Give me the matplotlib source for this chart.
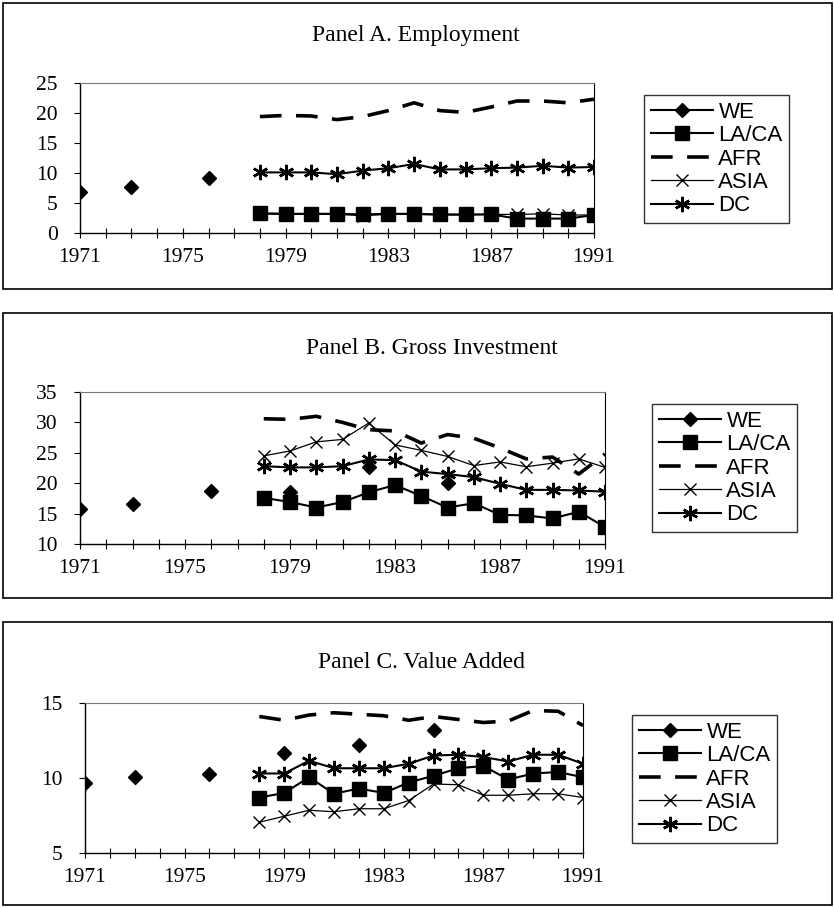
import numpy as np
import matplotlib
matplotlib.use('Agg')
import matplotlib.pyplot as plt
from matplotlib.patches import Rectangle

# ---- data ----
years = list(range(1971, 1992))
yrs_we = [1971, 1973, 1976, 1979, 1982, 1985]
yrs_reg = list(range(1978, 1992))
series = ['WE', 'LA/CA', 'AFR', 'ASIA', 'DC']

# Panel A. Employment
emp_we = [6.9, 7.6, 9.1, np.nan, np.nan, np.nan]
emp_lac = [3.3, 3.2, 3.2, 3.2, 3.1, 3.2, 3.2, 3.1, 3.1, 3.1, 2.4, 2.4, 2.4, 3.0]
emp_afr = [19.4, 19.6, 19.5, 18.9, 19.4, 20.4, 21.7, 20.4, 20.1, 21.0, 22.0, 22.0, 21.7, 22.3]
emp_asia = [3.2, 3.1, 3.1, 3.1, 2.9, 3.1, 3.1, 3.0, 3.0, 3.1, 3.1, 3.2, 3.0, 3.0]
emp_dc = [10.1, 10.1, 10.1, 9.8, 10.4, 10.8, 11.5, 10.6, 10.6, 10.8, 10.9, 11.2, 10.9, 11.0]

# Panel B. Gross Investment
inv_we = [15.8, 16.6, 18.7, 18.5, 22.6, 20.1]
inv_lac = [17.6, 16.9, 16.0, 16.9, 18.5, 19.7, 17.9, 16.0, 16.7, 14.8, 14.7, 14.2, 15.3, 12.8]
inv_afr = [30.6, 30.5, 31.0, 30.0, 28.8, 28.6, 26.6, 28.0, 27.4, 25.8, 24.0, 24.3, 21.5, 24.8]
inv_asia = [24.5, 25.3, 26.8, 27.2, 29.9, 26.3, 25.4, 24.4, 22.9, 23.5, 22.7, 23.3, 24.0, 22.6]
inv_dc = [22.8, 22.6, 22.6, 22.8, 23.9, 23.8, 21.9, 21.5, 21.0, 19.9, 18.9, 18.9, 18.8, 18.6]

# Panel C. Value Added
va_we = [9.7, 10.1, 10.3, 11.7, 12.2, 13.2]
va_lac = [8.7, 9.0, 10.05, 8.95, 9.3, 9.0, 9.7, 10.15, 10.65, 10.8, 9.9, 10.3, 10.4, 10.05]
va_afr = [14.1, 13.85, 14.2, 14.35, 14.25, 14.15, 13.85, 14.1, 13.9, 13.7, 13.8, 14.5, 14.45, 13.5]
va_asia = [7.05, 7.45, 7.85, 7.75, 7.95, 7.95, 8.5, 9.6, 9.55, 8.85, 8.85, 8.95, 8.95, 8.7]
va_dc = [10.3, 10.3, 11.15, 10.65, 10.65, 10.65, 10.95, 11.5, 11.55, 11.4, 11.1, 11.55, 11.55, 10.95]

W, H = 834, 908
fig = plt.figure(figsize=(W / 100, H / 100), dpi=100)
serif = 'Liberation Serif'
sans = 'Liberation Sans'


def box(l, t, r, b):
    return [l / W, 1 - b / H, (r - l) / W, (b - t) / H]


def full(xs, vals):
    d = dict(zip(xs, vals))
    return [d.get(y, np.nan) for y in years]


def panel(frame, title, title_xy, ax_px, ylim, yticks, data, leg_xy):
    l, t, r, b = frame
    fig.patches.append(Rectangle((l / W, 1 - b / H), (r - l) / W, (b - t) / H,
                                 transform=fig.transFigure, fill=False,
                                 edgecolor='black', lw=1.2))
    fig.text(title_xy[0] / W, 1 - title_xy[1] / H, title, family=serif,
             fontsize=17, ha='center', va='center')
    ax = fig.add_axes(box(*ax_px))
    we, lac, afr, asia, dc = data
    ax.plot(years, full(yrs_we, we), color='black', lw=1.5, marker='D', ms=7.5, label='WE')
    ax.plot(years, full(yrs_reg, lac), color='black', lw=1.5, marker='s', ms=9.5, label='LA/CA')
    ax.plot(years, full(yrs_reg, afr), color='black', lw=2.6, dashes=(6, 4), label='AFR')
    ax.plot(years, full(yrs_reg, asia), color='black', lw=0.9, marker='x', ms=8, mew=1.0, label='ASIA')
    ax.plot(years, full(yrs_reg, dc), color='black', lw=1.5, marker=(6, 2, 0), ms=11, mew=1.8, label='DC')
    ax.set_xlim(1971, 1991)
    ax.set_ylim(*ylim)
    ax.set_yticks(yticks)
    ax.set_xticks([1971, 1975, 1979, 1983, 1987, 1991])
    ax.set_xticks(years, minor=True)
    ax.tick_params(axis='x', which='both', direction='inout', length=7, width=0.8, pad=7)
    ax.tick_params(axis='y', direction='out', length=4, width=0.8, pad=12)
    for lab in ax.get_xticklabels() + ax.get_yticklabels():
        lab.set_family(serif)
        lab.set_fontsize(15.5)
    ax.spines['top'].set_color('#777777')
    ax.spines['top'].set_linewidth(0.8)
    ax.spines['right'].set_linewidth(0.8)
    ax.spines['left'].set_linewidth(1.0)
    ax.spines['bottom'].set_linewidth(1.0)
    ax.patch.set_alpha(0)
    leg = fig.legend(handles=ax.get_lines(), labels=series, loc='upper left',
                     bbox_to_anchor=(leg_xy[0] / W, 1 - leg_xy[1] / H),
                     frameon=True, fancybox=False, edgecolor='black',
                     handlelength=2.8, handletextpad=0.25, labelspacing=0.11,
                     borderpad=0.3, borderaxespad=0,
                     prop={'family': sans, 'size': 16})
    leg.get_frame().set_linewidth(1.0)
    return ax


panel((3, 3, 832, 289), 'Panel A. Employment', (416, 36),
      (80, 83, 594, 233), (0, 25), range(0, 26, 5),
      (emp_we, emp_lac, emp_afr, emp_asia, emp_dc), (644, 95))
panel((3, 313, 832, 598), 'Panel B. Gross Investment', (432, 349),
      (80, 392, 605, 544), (10, 35), range(10, 36, 5),
      (inv_we, inv_lac, inv_afr, inv_asia, inv_dc), (652, 404))
panel((3, 622, 832, 905), 'Panel C. Value Added', (421, 662),
      (85, 703, 583, 853), (5, 15), [5, 10, 15],
      (va_we, va_lac, va_afr, va_asia, va_dc), (632, 715))

fig.savefig('out.png', dpi=100)
